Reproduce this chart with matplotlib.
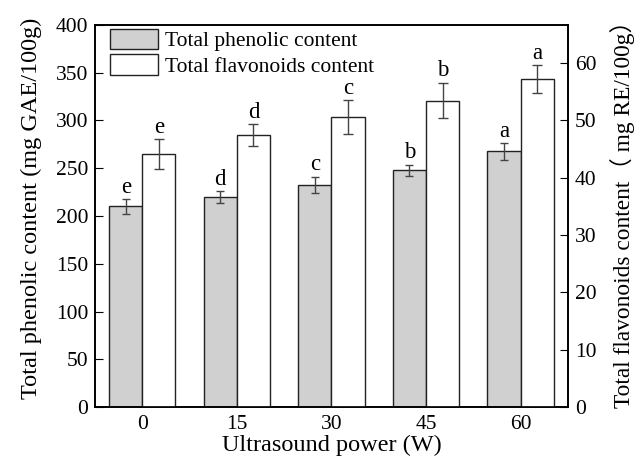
import matplotlib.pyplot as plt
import numpy as np

# Data
power_labels = ["0", "15", "30", "45", "60"]
phenolic = [210, 219.5, 232.5, 248, 267.5]
phenolic_err = [7.7, 6.3, 8.7, 5.8, 8.9]
phenolic_letters = ["e", "d", "c", "b", "a"]
flavonoids = [44.1, 47.4, 50.6, 53.45, 57.25]
flavonoids_err = [2.6, 1.9, 2.9, 3.1, 2.4]
flavonoids_letters = ["e", "d", "c", "b", "a"]

plt.rcParams["font.family"] = ["Liberation Serif", "Noto Sans CJK SC"]

fig = plt.figure(figsize=(6.38, 4.69), dpi=100)
ax = fig.add_axes([0.149, 0.132, 0.741, 0.815])
ax2 = ax.twinx()

x = np.arange(len(power_labels))
width = 0.35

# Gray bars: phenolic (left axis), white bars: flavonoids (right axis)
b1 = ax.bar(x - width / 2, phenolic, width, color="#d0d0d0", edgecolor="#222222",
            linewidth=1.0, label="Total phenolic content")
ax.errorbar(x - width / 2, phenolic, yerr=phenolic_err, fmt="none",
            ecolor="#444444", elinewidth=1.0, capsize=3.2, capthick=1.0)
b2 = ax2.bar(x + width / 2, flavonoids, width, color="white", edgecolor="#222222",
             linewidth=1.0, label="Total flavonoids content")
ax2.errorbar(x + width / 2, flavonoids, yerr=flavonoids_err, fmt="none",
             ecolor="#444444", elinewidth=1.0, capsize=3.4, capthick=1.0)

# Significance letters above the error bars
for xi, v, e, t in zip(x, phenolic, phenolic_err, phenolic_letters):
    ax.annotate(t, (xi - width / 2, v + e), xytext=(0, 1), textcoords="offset points",
                ha="center", va="bottom", fontsize=16.5)
for xi, v, e, t in zip(x, flavonoids, flavonoids_err, flavonoids_letters):
    ax2.annotate(t, (xi + width / 2, v + e), xytext=(0, 1), textcoords="offset points",
                 ha="center", va="bottom", fontsize=16.5)

ax.set_xlim(-0.5, len(power_labels) - 0.5)
ax.set_xticks(x, labels=power_labels)
ax.set_ylim(0, 400)
ax.set_yticks(np.arange(0, 401, 50))
ax2.set_ylim(0, 400 / 6)
ax2.set_yticks(np.arange(0, 61, 10))

ax.tick_params(axis="x", length=0, labelsize=15.5, pad=6)
ax.tick_params(axis="y", direction="in", length=6, labelsize=15.5, pad=5)
ax2.tick_params(axis="y", direction="in", length=6, labelsize=15.5, pad=5)

ax.set_xlabel("Ultrasound power (W)", fontsize=17.5, labelpad=0)
ax.set_ylabel("Total phenolic content (mg GAE/100g)", fontsize=17.5)
ax2.set_ylabel("Total flavonoids content（ mg RE/100g）", fontsize=16.8)
ax.yaxis.set_label_coords(-0.112, 0.52)
ax2.yaxis.set_label_coords(1.09, 0.52)

for a in (ax, ax2):
    for s in a.spines.values():
        s.set_linewidth(1.2)

ax2.legend([b1, b2], ["Total phenolic content", "Total flavonoids content"],
           loc="upper left", bbox_to_anchor=(0.032, 0.99), frameon=False,
           fontsize=15.5, borderpad=0, borderaxespad=0, handlelength=2.2,
           handleheight=1.1, labelspacing=0.12, handletextpad=0.35)

fig.savefig("out.png", dpi=100)
